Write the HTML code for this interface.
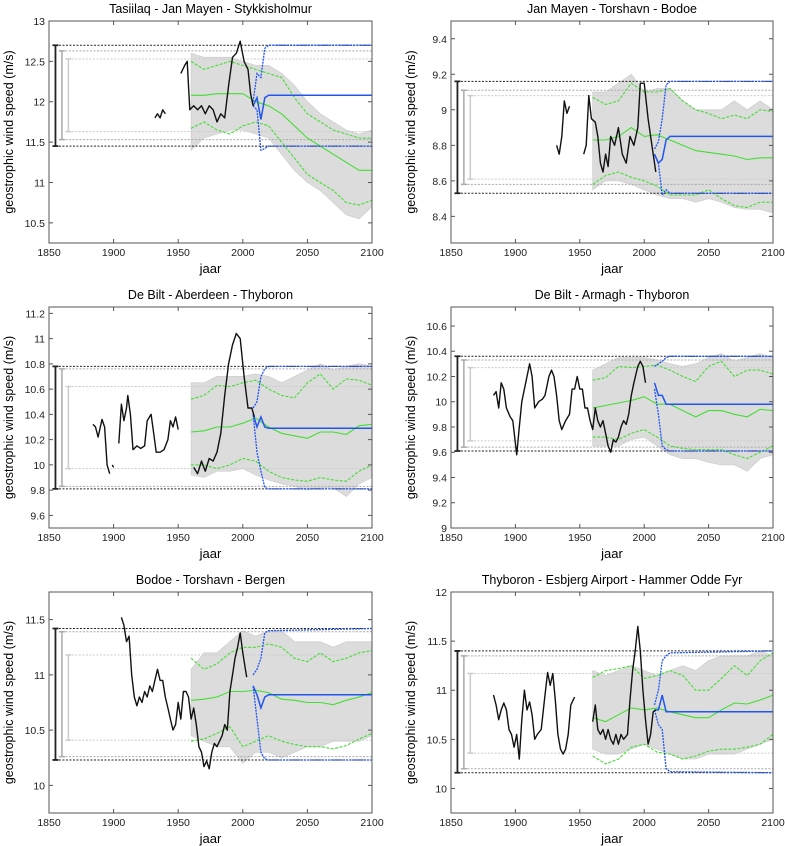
<!DOCTYPE html>
<html><head><meta charset="utf-8"><style>
body{margin:0;background:#fff;}
svg{display:block;font-family:"Liberation Sans",sans-serif;}
</style></head><body>
<svg id="chart" width="785" height="846" viewBox="0 0 785 846"></svg>
<script>
const xTicks=[1850,1900,1950,2000,2050,2100];
const gYears=[1960,1970,1980,1990,2000,2010,2020,2030,2040,2050,2060,2070,2080,2090,2100];
const bYears=[2008,2011,2014,2017,2020,2100];
const titles=["Tasiilaq - Jan Mayen - Stykkisholmur","Jan Mayen - Torshavn - Bodoe","De Bilt - Aberdeen - Thyboron","De Bilt - Armagh - Thyboron","Bodoe - Torshavn - Bergen","Thyboron - Esbjerg Airport - Hammer Odde Fyr"];
const yMins=[10.25,8.25,9.5,9,9.75,9.75];
const yMaxs=[13,9.5,11.25,10.75,11.75,12];
const yTickSets=[[10.5,11,11.5,12,12.5,13],[8.4,8.6,8.8,9,9.2,9.4],[9.6,9.8,10,10.2,10.4,10.6,10.8,11,11.2],[9,9.2,9.4,9.6,9.8,10,10.2,10.4,10.6],[10,10.5,11,11.5],[10,10.5,11,11.5,12]];
const refBlack=[[12.7,11.45],[9.16,8.53],[10.78,9.81],[10.36,9.61],[11.42,10.23],[11.4,10.16]];
const refGrey1=[[12.63,11.53],[9.11,8.58],[10.76,9.83],[10.33,9.64],[11.39,10.26],[11.35,10.2]];
const refGrey2=[[12.53,11.63],[9.08,8.61],[10.62,9.97],[10.27,9.69],[11.18,10.41],[11.17,10.36]];
const obsYears=[
[1932,1934,1936,1938,1940,null,1952,1955,1957,1959,1962,1965,1968,1971,1974,1977,1980,1983,1986,1989,1992,1995,1998,2001,2004,2006,2008],
[1932,1934,1936,1938,1940,1942,null,1953,1955,1957,1959,1962,1964,1966,1968,1970,1972,1974,1977,1980,1983,1986,1989,1992,1995,1997,2000,2003,2006,2009],
[1884,1886,1888,1891,1893,1895,1897,null,1899,1900,null,1904,1906,1908,1910,1911,1913,1915,1918,1921,1924,1926,1929,1931,1933,1936,1939,1942,1944,1946,1948,1950,null,1962,1965,1968,1971,1974,1977,1980,1983,1986,1989,1992,1995,1998,2001,2004,2007,2009],
[1883,1885,1887,1889,1891,1893,1896,1898,1901,1903,1905,1907,1909,1911,1913,1915,1918,1921,1923,1926,1928,1930,1932,1934,1936,1939,1942,1944,1946,1948,1950,1952,1954,1956,1958,1960,1962,1964,1966,1968,1970,1972,1974,1976,1978,1980,1982,1984,1986,1988,1990,1992,1995,1997,1999,2001],
[1906,1908,1910,1912,1914,1916,1918,1920,1922,1924,1926,1928,1930,1932,1934,1936,1938,1940,1942,1944,1946,1948,1950,1952,1954,1956,1958,1960,1962,1964,1966,1968,1970,1972,1974,1976,1978,1980,1982,1984,1986,1988,1990,1992,1994,1996,1998,2000,2002,2003],
[1883,1885,1887,1889,1891,1893,1895,1897,1899,1901,1903,1905,1907,1909,1911,1913,1915,1917,1920,1923,1925,1927,1929,1931,1933,1935,1937,1939,1941,1943,1946,null,1960,1962,1964,1966,1968,1970,1972,1974,1976,1978,1980,1982,1984,1987,1989,1991,1993,1995,1997,1999,2001,2003,2005,2007,2009]];
const obsVals=[
[11.8,11.85,11.8,11.9,11.85,null,12.35,12.45,12.5,11.9,11.95,11.9,11.95,11.85,11.95,11.9,11.75,11.85,11.8,12.2,12.55,12.6,12.75,12.5,12.4,12.1,11.95],
[8.8,8.75,8.85,9.05,8.98,9.02,null,8.75,8.8,9.08,8.95,8.93,8.85,8.7,8.65,8.75,8.68,8.85,8.8,8.9,8.75,8.7,8.85,8.8,8.9,9.15,9.15,8.95,8.8,8.65],
[10.32,10.3,10.22,10.36,10.3,10.0,9.93,null,10.0,9.98,null,10.17,10.48,10.35,10.45,10.55,10.4,10.12,10.15,10.13,10.15,10.35,10.4,10.25,10.1,10.1,10.12,10.2,10.35,10.3,10.38,10.28,null,9.98,9.93,10.03,9.95,10.05,10.03,10.1,10.25,10.55,10.8,10.95,11.04,11.0,10.7,10.45,10.45,10.38],
[10.05,10.08,9.95,10.15,10.1,9.95,9.88,9.85,9.58,9.8,10.0,10.1,10.2,10.3,10.2,9.95,10.0,10.02,10.05,10.2,10.25,10.2,10.05,9.85,9.78,9.85,9.9,10.1,10.1,10.2,10.1,10.1,9.95,9.95,9.85,9.78,9.95,9.85,9.8,9.85,9.75,9.65,9.6,9.7,9.68,9.72,9.8,9.85,9.82,9.9,10.05,10.15,10.28,10.32,10.28,10.15],
[11.52,11.45,11.3,11.35,11.0,10.8,10.72,10.8,10.75,10.85,10.8,10.9,10.85,10.95,11.05,10.95,10.95,10.8,10.7,10.6,10.5,10.55,10.75,10.6,10.85,10.85,10.8,10.6,10.7,10.55,10.35,10.3,10.17,10.22,10.15,10.3,10.38,10.35,10.4,10.45,10.55,10.5,10.85,11.0,11.15,11.25,11.38,11.2,11.05,10.98],
[10.95,10.85,10.7,10.8,10.87,10.8,10.6,10.55,10.42,10.55,10.3,10.7,11.0,10.8,10.88,10.75,10.5,10.55,10.6,10.95,11.18,11.05,11.17,10.9,10.55,10.4,10.35,10.4,10.55,10.85,10.93,null,10.68,10.85,10.6,10.55,10.6,10.5,10.6,10.5,10.45,10.55,10.45,10.55,10.5,10.55,10.9,11.2,11.4,11.65,11.4,11.0,10.7,10.45,10.55,10.78,10.8]];
const greenMean=[
[12.08,12.08,12.1,12.1,12.1,12.0,11.95,11.85,11.7,11.55,11.45,11.35,11.25,11.15,11.15],
[8.83,8.83,8.85,8.9,8.85,8.86,8.83,8.8,8.77,8.76,8.75,8.74,8.72,8.73,8.73],
[10.26,10.27,10.3,10.3,10.33,10.37,10.3,10.25,10.23,10.21,10.26,10.26,10.24,10.31,10.32],
[9.95,9.97,9.99,10.01,10.04,9.98,9.98,9.93,9.88,9.93,9.93,9.9,9.88,9.94,9.93],
[10.77,10.78,10.8,10.85,10.85,10.86,10.84,10.78,10.77,10.75,10.75,10.73,10.77,10.8,10.84],
[10.72,10.68,10.75,10.82,10.8,10.82,10.78,10.75,10.72,10.72,10.8,10.87,10.86,10.9,10.95]];
const greenHi=[
[12.5,12.4,12.45,12.5,12.45,12.4,12.35,12.3,12.05,11.85,11.75,11.65,11.6,11.55,11.55],
[9.07,9.03,9.05,9.15,9.1,9.1,9.12,9.05,9.0,8.98,8.95,8.97,8.95,9.0,8.99],
[10.52,10.55,10.63,10.62,10.65,10.67,10.6,10.55,10.53,10.65,10.72,10.6,10.68,10.67,10.63],
[10.17,10.19,10.28,10.27,10.28,10.29,10.25,10.2,10.16,10.28,10.32,10.2,10.25,10.25,10.22],
[11.15,11.05,11.1,11.2,11.25,11.25,11.28,11.25,11.15,11.12,11.2,11.12,11.15,11.2,11.22],
[11.13,11.2,11.22,11.25,11.12,11.15,11.2,11.15,11.0,11.0,11.12,11.25,11.15,11.3,11.38]];
const greenLo=[
[11.67,11.75,11.65,11.6,11.7,11.75,11.7,11.5,11.3,11.1,11.0,10.9,10.75,10.72,10.78],
[8.58,8.63,8.65,8.62,8.6,8.57,8.52,8.52,8.52,8.55,8.5,8.46,8.45,8.48,8.48],
[10.0,10.0,9.97,10.0,10.05,10.03,9.95,9.9,9.88,9.87,9.9,9.88,9.87,9.95,10.0],
[9.72,9.72,9.7,9.75,9.78,9.72,9.65,9.63,9.62,9.62,9.62,9.58,9.55,9.6,9.65],
[10.4,10.42,10.47,10.53,10.35,10.4,10.45,10.4,10.37,10.35,10.35,10.33,10.36,10.42,10.47],
[10.33,10.25,10.3,10.42,10.45,10.37,10.35,10.3,10.33,10.38,10.4,10.4,10.42,10.45,10.55]];
const ensHi=[
[12.6,12.55,12.55,12.55,12.5,12.45,12.45,12.35,12.2,12.0,11.85,11.75,11.65,11.6,11.65],
[9.1,9.1,9.15,9.2,9.1,9.12,9.12,9.05,9.0,9.0,9.0,9.05,9.0,9.05,9.0],
[10.65,10.65,10.7,10.7,10.7,10.72,10.7,10.65,10.7,10.75,10.8,10.75,10.78,10.8,10.78],
[10.25,10.3,10.35,10.35,10.35,10.33,10.3,10.28,10.3,10.35,10.38,10.32,10.35,10.38,10.35],
[11.05,11.2,11.2,11.3,11.4,11.35,11.4,11.4,11.3,11.3,11.3,11.25,11.3,11.3,11.3],
[11.2,11.15,11.2,11.25,11.2,11.15,11.2,11.25,11.2,11.3,11.35,11.35,11.35,11.4,11.35]];
const ensLo=[
[11.4,11.55,11.6,11.65,11.65,11.6,11.55,11.35,11.15,11.0,10.9,10.75,10.6,10.55,10.7],
[8.55,8.6,8.6,8.58,8.55,8.52,8.5,8.5,8.48,8.5,8.48,8.45,8.44,8.44,8.42],
[9.92,9.9,9.95,9.95,9.97,9.92,9.88,9.85,9.83,9.8,9.82,9.82,9.75,9.85,9.9],
[9.65,9.65,9.65,9.7,9.72,9.65,9.58,9.55,9.55,9.52,9.5,9.5,9.45,9.55,9.58],
[10.45,10.4,10.35,10.35,10.2,10.3,10.3,10.25,10.3,10.35,10.35,10.4,10.4,10.4,10.45],
[10.4,10.35,10.35,10.4,10.45,10.4,10.35,10.3,10.3,10.35,10.35,10.35,10.4,10.45,10.5]];
const blueMid=[[11.95,12.05,11.78,12.05,12.08,12.08],[8.75,8.7,8.72,8.83,8.85,8.85],[10.4,10.3,10.38,10.3,10.29,10.29],[10.15,10.05,10.05,9.98,9.98,9.98],[10.9,10.82,10.7,10.8,10.82,10.82],[10.8,10.8,10.95,10.78,10.78,10.78]];
const blueHi=[[12.0,12.35,12.3,12.66,12.7,12.7],[8.78,8.82,8.95,9.14,9.16,9.16],[10.45,10.5,10.7,10.76,10.78,10.78],[10.28,10.3,10.32,10.35,10.36,10.36],[11.0,11.05,11.15,11.38,11.4,11.42],[10.85,11.0,11.3,11.35,11.38,11.4]];
const blueLo=[[11.95,11.9,11.4,11.42,11.45,11.45],[8.75,8.7,8.52,8.55,8.53,8.53],[10.4,10.1,9.95,9.82,9.81,9.81],[10.1,9.9,9.65,9.62,9.61,9.61],[10.9,10.6,10.3,10.24,10.23,10.23],[10.8,10.65,10.6,10.2,10.17,10.16]];

const NS="http://www.w3.org/2000/svg";
const svg=document.getElementById("chart");
function mk(tag,parent){const e=document.createElementNS(NS,tag);parent.appendChild(e);return e;}
const boxes=[[49,372,21,243],[451,773,21,243],[49,372,307,528],[451,773,307,528],[49,372,592,813],[451,773,592,813]];
function lineD(xs,ys,sx,sy){let d="",pen=false;for(let i=0;i<xs.length;i++){if(xs[i]===null||ys[i]===null){pen=false;continue;}d+=(pen?"L":"M")+sx(xs[i]).toFixed(1)+","+sy(ys[i]).toFixed(1);pen=true;}return d;}
for(let p=0;p<6;p++){
  const [L,R,T,B]=boxes[p];
  const sx=v=>L+(v-1850)/250*(R-L);
  const sy=v=>B-(v-yMins[p])/(yMaxs[p]-yMins[p])*(B-T);
  const g=mk("g",svg);
  
  
  const t=mk("text",g);t.textContent=titles[p];
  
  
  t.setAttribute("x",(L+R)/2);t.setAttribute("y",T-8);t.setAttribute("text-anchor","middle");t.setAttribute("font-size","12.5");
  let d="";gYears.forEach((y,i)=>{d+=(i?"L":"M")+sx(y)+","+sy(ensHi[p][i]);});
  for(let i=gYears.length-1;i>=0;i--)d+="L"+sx(gYears[i])+","+sy(ensLo[p][i]);
  const band=mk("path",g);band.setAttribute("d",d+"Z");band.setAttribute("fill","#dcdcdc");band.setAttribute("stroke","#d0d0d0");band.setAttribute("stroke-width","0.8");
  
  
  const refs=[[refGrey2[p],"#ccc",1865],[refGrey1[p],"#aaa",1860],[refBlack[p],"#222",1855]];
  refs.forEach(([pair,col,ex])=>{
    pair.forEach(v=>{const l=mk("line",g);l.setAttribute("x1",sx(ex));l.setAttribute("x2",R);l.setAttribute("y1",sy(v));l.setAttribute("y2",sy(v));l.setAttribute("stroke",col);l.setAttribute("stroke-dasharray","2,1.5");l.setAttribute("stroke-width","1");
      
      });
    const eb=mk("path",g);const x=sx(ex);
    eb.setAttribute("d",`M${x},${sy(pair[0])}V${sy(pair[1])}M${x-3},${sy(pair[0])}h6M${x-3},${sy(pair[1])}h6`);
    eb.setAttribute("stroke",col);eb.setAttribute("stroke-width",col==="#222"?"1.8":"1.5");eb.setAttribute("fill","none");
    
    
  });
  [[greenHi[p],"3,1.5"],[greenLo[p],"3,1.5"],[greenMean[p],null]].forEach(([arr,da])=>{
    const gl=mk("path",g);gl.setAttribute("d",lineD(gYears,arr,sx,sy));gl.setAttribute("fill","none");gl.setAttribute("stroke","#44dd33");gl.setAttribute("stroke-width","1.1");if(da)gl.setAttribute("stroke-dasharray",da);
    
    
  });
  [[blueHi[p],"2,1"],[blueLo[p],"2,1"],[blueMid[p],null]].forEach(([arr,da])=>{
    const bl=mk("path",g);bl.setAttribute("d",lineD(bYears,arr,sx,sy));bl.setAttribute("fill","none");bl.setAttribute("stroke","#2255ee");bl.setAttribute("stroke-width",da?"1.3":"1.5");if(da)bl.setAttribute("stroke-dasharray",da);
    
    
  });
  const ob=mk("path",g);ob.setAttribute("d",lineD(obsYears[p],obsVals[p],sx,sy));ob.setAttribute("fill","none");ob.setAttribute("stroke","#111");ob.setAttribute("stroke-width","1.4");ob.setAttribute("stroke-linejoin","round");
  
  
  const fr=mk("rect",g);fr.setAttribute("x",L);fr.setAttribute("y",T);fr.setAttribute("width",R-L);fr.setAttribute("height",B-T);fr.setAttribute("fill","none");fr.setAttribute("stroke","#555");fr.setAttribute("stroke-width","1");
  
  
  xTicks.forEach(v=>{
    const tk=mk("path",g);tk.setAttribute("d",`M${sx(v)},${B}v-4M${sx(v)},${T}v4`);tk.setAttribute("stroke","#555");
    
    
    const tl=mk("text",g);tl.textContent=v;tl.setAttribute("x",sx(v));tl.setAttribute("y",B+13);tl.setAttribute("text-anchor","middle");tl.setAttribute("font-size","10.5");tl.setAttribute("fill","#222");
    
    
  });
  yTickSets[p].forEach(v=>{
    const tk=mk("path",g);tk.setAttribute("d",`M${L},${sy(v)}h4M${R},${sy(v)}h-4`);tk.setAttribute("stroke","#555");
    
    
    const tl=mk("text",g);tl.textContent=v;tl.setAttribute("x",L-4);tl.setAttribute("y",sy(v)+4);tl.setAttribute("text-anchor","end");tl.setAttribute("font-size","10.5");tl.setAttribute("fill","#222");
    
    
  });
  const xl=mk("text",g);xl.textContent="jaar";xl.setAttribute("x",(L+R)/2);xl.setAttribute("y",B+30);xl.setAttribute("text-anchor","middle");xl.setAttribute("font-size","13");
  
  
  const yl=mk("text",g);yl.textContent="geostrophic wind speed (m/s)";const cy=(T+B)/2,cx=L-36;
  yl.setAttribute("transform",`translate(${cx},${cy}) rotate(-90)`);yl.setAttribute("text-anchor","middle");yl.setAttribute("font-size","12.5");
  
  
}
</script>
</body></html>
